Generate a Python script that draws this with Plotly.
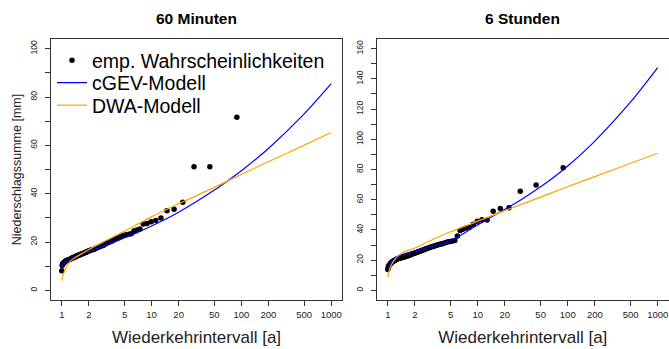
import plotly.graph_objects as go

# ---------------- data ----------------
# empirical return periods (years), rank 1..89
T_emp = [89.00, 44.50, 29.67, 22.25, 17.80, 14.83, 12.71, 11.13, 9.89, 8.90,
         8.09, 7.42, 6.85, 6.36, 5.93, 5.56, 5.24, 4.94, 4.68, 4.45,
         4.24, 4.05, 3.87, 3.71, 3.56, 3.42, 3.30, 3.18, 3.07, 2.97,
         2.87, 2.78, 2.70, 2.62, 2.54, 2.47, 2.41, 2.34, 2.28, 2.23,
         2.17, 2.12, 2.07, 2.02, 1.98, 1.93, 1.89, 1.85, 1.82, 1.78,
         1.75, 1.71, 1.68, 1.65, 1.62, 1.59, 1.56, 1.53, 1.51, 1.48,
         1.46, 1.44, 1.41, 1.39, 1.37, 1.35, 1.33, 1.31, 1.29, 1.27,
         1.25, 1.24, 1.22, 1.20, 1.19, 1.17, 1.16, 1.14, 1.13, 1.11,
         1.10, 1.09, 1.07, 1.06, 1.05, 1.03, 1.02, 1.01, 1.00]

# 60 Minuten: empirical precipitation depths [mm]
h60_emp = [71.6, 51.1, 51.1, 36.5, 33.6, 32.9, 29.9, 28.9, 28.4, 27.7,
           27.4, 25.4, 25.0, 24.6, 23.4, 23.2, 23.0, 22.8, 22.5, 22.1,
           21.7, 21.3, 21.0, 20.6, 20.3, 20.0, 19.8, 19.6, 19.3, 18.9,
           18.6, 18.4, 18.2, 18.0, 17.8, 17.6, 17.4, 17.2, 17.0, 16.9,
           16.8, 16.7, 16.5, 16.4, 16.3, 16.1, 15.9, 15.8, 15.7, 15.5,
           15.3, 15.2, 15.1, 15.0, 14.8, 14.7, 14.6, 14.5, 14.4, 14.3,
           14.2, 14.0, 13.9, 13.8, 13.7, 13.6, 13.5, 13.4, 13.3, 13.2,
           13.0, 12.9, 12.8, 12.7, 12.6, 12.5, 12.4, 12.3, 12.2, 12.1,
           12.0, 11.9, 11.7, 11.5, 11.3, 11.1, 10.8, 10.3, 8.1]

# 6 Stunden: empirical precipitation depths [mm]
h6h_emp = [81.2, 69.8, 65.6, 54.6, 54.1, 52.3, 46.6, 46.8, 45.7, 43.8,
           41.8, 41.2, 40.4, 39.6, 35.9, 33.0, 32.7, 32.4, 32.1, 31.7,
           31.3, 30.9, 30.6, 30.3, 30.0, 29.7, 29.4, 29.1, 28.8, 28.5,
           28.2, 27.9, 27.6, 27.3, 27.0, 26.7, 26.5, 26.2, 25.9, 25.7,
           25.5, 25.2, 25.0, 24.8, 24.6, 24.4, 24.2, 24.0, 23.8, 23.6,
           23.4, 23.2, 23.0, 22.8, 22.7, 22.5, 22.3, 22.2, 22.0, 21.9,
           21.8, 21.7, 21.6, 21.5, 21.4, 21.3, 21.2, 21.1, 21.0, 20.8,
           20.6, 20.4, 20.2, 20.0, 19.8, 19.6, 19.4, 19.2, 19.0, 18.7,
           18.4, 18.1, 17.8, 17.4, 17.0, 16.5, 15.8, 15.0, 13.8]

# model curves, 60 Minuten
T_gev60 = [1.0, 1.02, 1.05, 1.1, 1.2, 1.5, 2.0, 3.0, 5.0, 7.0, 10, 15, 20, 30,
           50, 72.5, 100, 200, 500, 1000]
h_gev60 = [9.3, 10.4, 11.2, 12.0, 12.9, 14.5, 16.2, 18.5, 21.8, 24.0, 26.6, 29.8,
           32.3, 36.2, 41.5, 45.7, 49.5, 58.7, 73.0, 85.5]
T_dwa60 = [1.0, 1.03, 1.05, 1.1, 1.13, 1.2, 1.4, 1.7, 2.0, 3.0, 5.0, 10, 20, 50,
           100, 200, 500, 1000]
h_dwa60 = [4.0, 6.0, 7.0, 9.0, 9.9, 11.5, 13.5, 15.3, 16.9, 20.3, 24.5, 30.4,
           35.8, 42.6, 48.0, 53.2, 60.1, 65.3]

# model curves, 6 Stunden
T_gev6h = [1.0, 1.05, 1.12, 1.2, 1.4, 2.0, 3.0, 4.55, 6.38, 9.0, 13.7, 21, 30,
           49, 70, 100, 200, 500, 1000]
h_gev6h = [13.7, 17.0, 19.8, 21.3, 23.3, 26.2, 28.9, 31.9, 36.3, 41.8, 48.0,
           54.4, 59.8, 68.2, 74.9, 82.3, 98.8, 124.7, 147.5]
T_dwa6h = [1.0, 1.02, 1.05, 1.07, 1.15, 1.2, 1.3, 1.5, 2.0, 3.0, 5.0, 10, 20,
           50, 100, 200, 500, 1000]
h_dwa6h = [8.8, 11.5, 14.0, 15.4, 19.0, 20.5, 22.8, 25.3, 28.0, 33.0, 38.8, 45.8,
           52.8, 61.7, 68.6, 75.3, 84.1, 90.8]

x_ticks = [1, 2, 5, 10, 20, 50, 100, 200, 500, 1000]
x_ticktext = ["1", "2", "5", "10", "20", "50", "100", "200", "500", "1000"]

titles = ["60 Minuten", "6 Stunden"]
legend_names = ["emp. Wahrscheinlichkeiten", "cGEV-Modell", "DWA-Modell"]

BLUE = "#0000FF"
ORANGE = "#FFA500"
AXC = "#333333"
FONT = "Liberation Sans"

# ---------------- figure ----------------
fig = go.Figure()

panels = [
    (T_emp, h60_emp, T_gev60, h_gev60, T_dwa60, h_dwa60, "x", "y", True),
    (T_emp, h6h_emp, T_gev6h, h_gev6h, T_dwa6h, h_dwa6h, "x2", "y2", False),
]
for te, he, tg, hg, td, hd, xa, ya, show in panels:
    fig.add_trace(go.Scatter(x=te, y=he, mode="markers", name=legend_names[0],
                             marker=dict(color="black", size=5.5), showlegend=show,
                             legend="legend", xaxis=xa, yaxis=ya))
    fig.add_trace(go.Scatter(x=tg, y=hg, mode="lines", name=legend_names[1],
                             line=dict(color=BLUE, width=1.2, shape="spline", smoothing=0.8),
                             showlegend=show, legend="legend2", xaxis=xa, yaxis=ya))
    fig.add_trace(go.Scatter(x=td, y=hd, mode="lines", name=legend_names[2],
                             line=dict(color=ORANGE, width=1.2, shape="spline", smoothing=0.8),
                             showlegend=show, legend="legend3", xaxis=xa, yaxis=ya))

W, H = 669, 349
TOP, BOT = 39, 300
dom1 = [51 / W, 342 / W]
dom2 = [377 / W, 668.5 / W]


def py(ypx):
    return (BOT - ypx) / (BOT - TOP)


xcommon = dict(type="log", range=[-0.12, 3.12], tickvals=x_ticks, ticktext=x_ticktext,
               ticks="outside", ticklen=5, tickcolor=AXC, showline=True, mirror=True,
               linecolor=AXC, linewidth=1, showgrid=False, zeroline=False,
               ticklabelstandoff=1,
               tickfont=dict(size=9.5, color="#222", family=FONT),
               title=dict(text="Wiederkehrintervall [a]",
                          font=dict(size=17, color="#222", family=FONT),
                          standoff=11))
ycommon = dict(ticks="outside", ticklen=5, tickcolor=AXC, showline=True, mirror=True,
               linecolor=AXC, linewidth=1, showgrid=False, zeroline=False,
               tickangle=-90, ticklabelstandoff=5,
               tickfont=dict(size=8.5, color="#222", family=FONT),
               minor=dict(ticks="outside", ticklen=5, tickcolor=AXC, dtick=10, showgrid=False))

leg_common = dict(xanchor="left", yanchor="middle", bgcolor="rgba(0,0,0,0)",
                  font=dict(size=19.5, color="black", family=FONT), itemwidth=30,
                  tracegroupgap=0)

fig.update_layout(
    width=W, height=H,
    margin=dict(l=0, r=0, t=TOP, b=H - BOT),
    paper_bgcolor="white", plot_bgcolor="white",
    font=dict(family=FONT, color="#222"),
    xaxis=dict(domain=dom1, anchor="y", **xcommon),
    xaxis2=dict(domain=dom2, anchor="y2", **xcommon),
    yaxis=dict(domain=[0, 1], anchor="x", range=[-4, 104], dtick=20, tick0=0,
               title=dict(text="Niederschlagssumme [mm]",
                          font=dict(size=12.5, color="#222", family=FONT),
                          standoff=4),
               **ycommon),
    yaxis2=dict(domain=[0, 1], anchor="x2", range=[-6.4, 166.4], dtick=20, tick0=0,
                **ycommon),
    showlegend=True,
    legend=dict(x=52 / W, y=py(60.5), **leg_common),
    legend2=dict(x=52 / W, y=py(83), **leg_common),
    legend3=dict(x=52 / W, y=py(105.5), **leg_common),
)

for i, t in enumerate(titles):
    d = dom1 if i == 0 else dom2
    fig.add_annotation(text="<b>" + t + "</b>", xref="paper", yref="paper",
                       x=(d[0] + d[1]) / 2, y=1, yshift=21, xanchor="center",
                       yanchor="middle", showarrow=False,
                       font=dict(size=15.5, color="black", family=FONT))

fig.write_html("out.html")
